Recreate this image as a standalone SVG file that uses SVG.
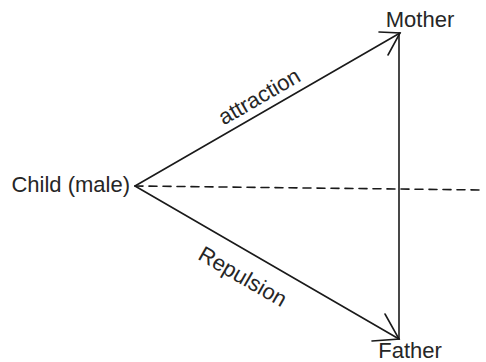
<svg xmlns="http://www.w3.org/2000/svg" width="486" height="362" viewBox="0 0 486 362">
<style>
.ln{stroke:#1a1a1a;stroke-width:1.6;fill:none;stroke-linecap:round}
.lbl{font-family:"Liberation Sans",Arial,sans-serif;font-size:22px;fill:#262626}
</style>
<rect width="486" height="362" fill="#fff"/>
<g id="connectors">
<line class="ln" x1="135" y1="186" x2="400" y2="33"/>
<polyline class="ln" points="379,32 400,33 388,55"/>
<line class="ln" x1="135" y1="186" x2="399" y2="339"/>
<polyline class="ln" points="372,341 399,339 385,314"/>
<line class="ln" x1="399" y1="33" x2="399" y2="339"/>
<line class="ln" x1="135" y1="186" x2="484" y2="190" stroke-dasharray="8 6" stroke-linecap="butt"/>
<text class="lbl" x="263" y="103" text-anchor="middle" transform="rotate(-30 263 103)">attraction</text>
<text class="lbl" x="239" y="283" text-anchor="middle" transform="rotate(30 239 283)">Repulsion</text>
</g>
<g id="mother"><text class="lbl" x="420" y="27" text-anchor="middle">Mother</text></g>
<g id="father"><text class="lbl" x="410" y="358" text-anchor="middle">Father</text></g>
<g id="child"><text class="lbl" x="130" y="192" text-anchor="end">Child (male)</text></g>
</svg>
